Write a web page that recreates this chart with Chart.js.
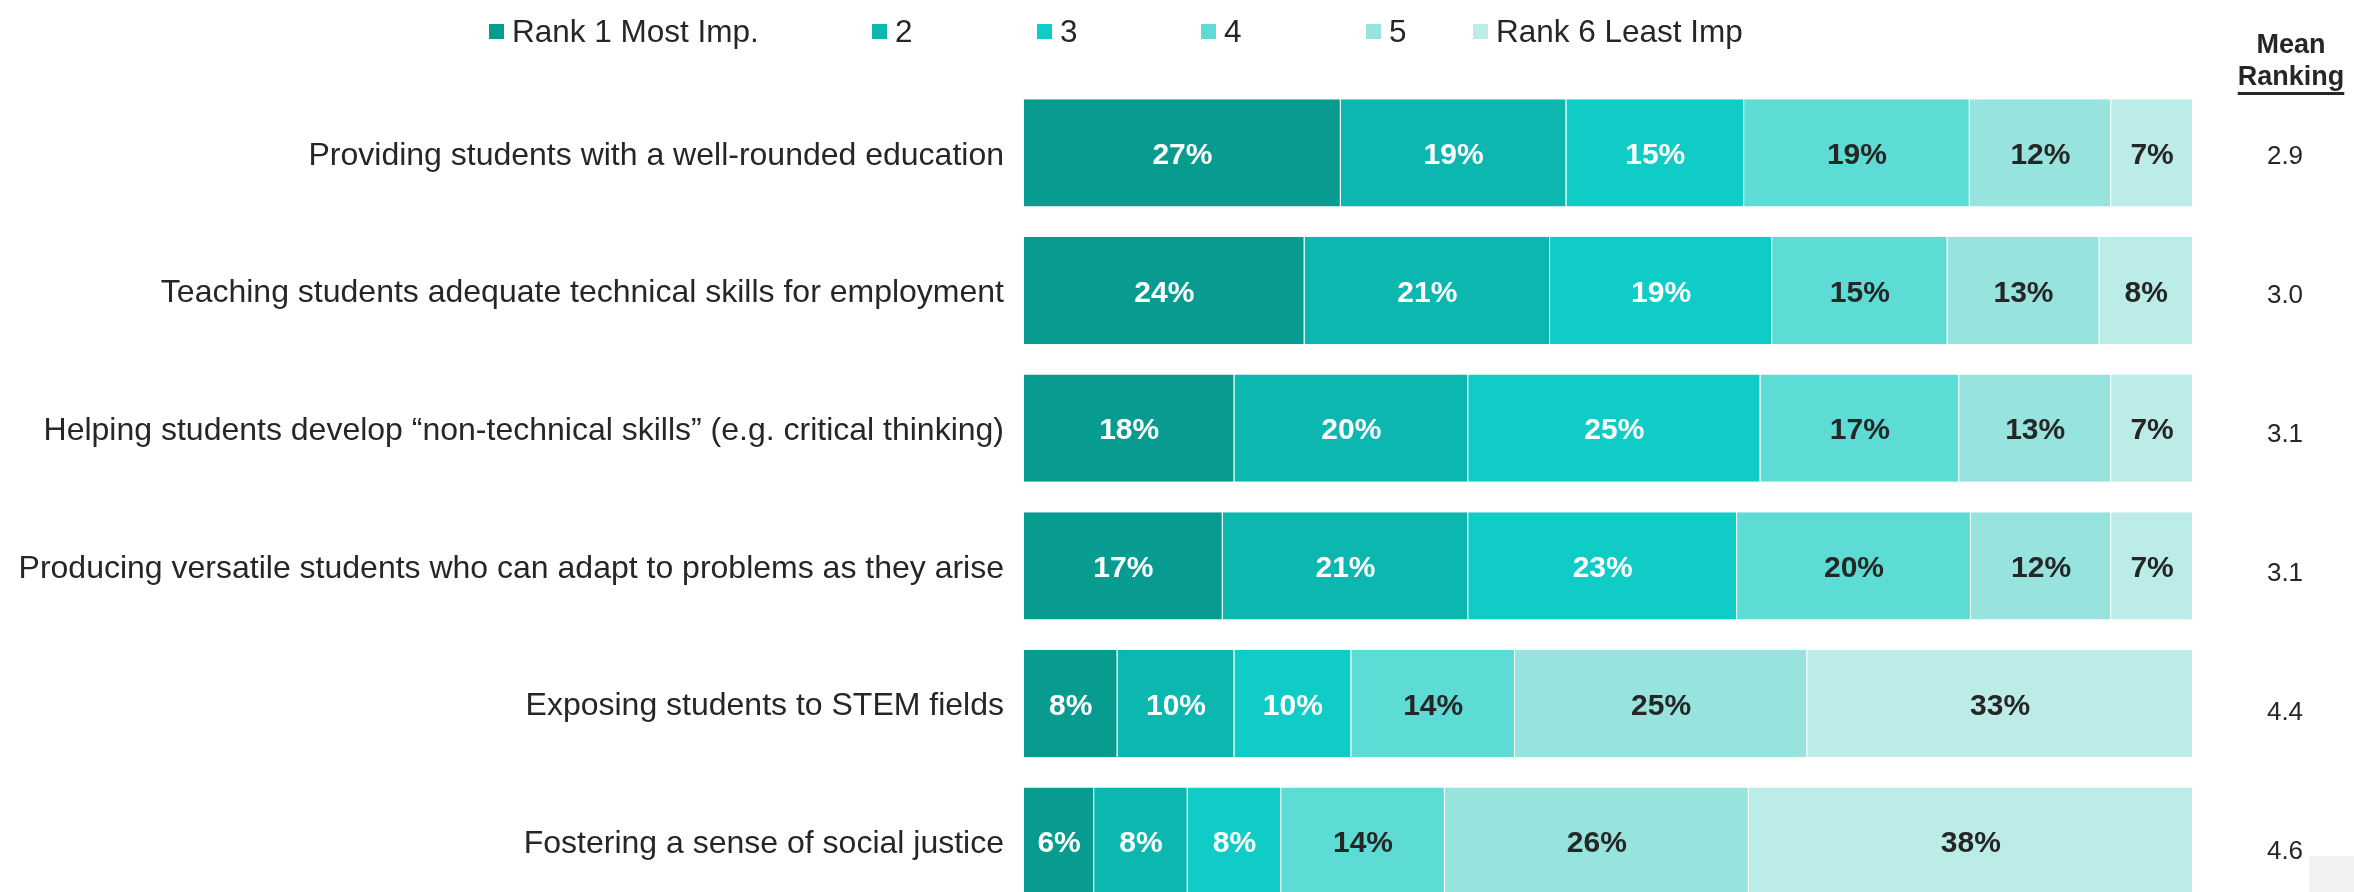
<!DOCTYPE html>
<html>
<head>
<meta charset="utf-8">
<script src="https://cdn.jsdelivr.net/npm/chart.js@4.4.0/dist/chart.umd.min.js"></script>
<style>
  html, body { margin: 0; padding: 0; background: #fff; overflow: hidden; }
  #wrap { position: relative; width: 2354px; height: 892px; overflow: hidden; }
  #chart { display: block; width: 2354px; height: 912px; }
  #corner { position: absolute; left: 2309px; top: 856px; width: 45px; height: 36px; background: #f2f2f2; }
</style>
</head>
<body>
<div id="wrap">
  <canvas id="chart" width="2354" height="912"></canvas>
  <div id="corner"></div>
</div>
<script>
const categories = [
  'Providing students with a well-rounded education',
  'Teaching students adequate technical skills for employment',
  'Helping students develop \u201cnon-technical skills\u201d (e.g. critical thinking)',
  'Producing versatile students who can adapt to problems as they arise',
  'Exposing students to STEM fields',
  'Fostering a sense of social justice'
];
const seriesNames = ['Rank 1 Most Imp.', '2', '3', '4', '5', 'Rank 6 Least Imp'];
const rank1 = [27.1, 24, 18, 17, 8, 6];
const rank2 = [19.3, 21, 20, 21, 10, 8];
const rank3 = [15.2, 19, 25, 23, 10, 8];
const rank4 = [19.3, 15, 17, 20, 14, 14];
const rank5 = [12.1, 13, 13, 12, 25, 26];
const rank6 = [7, 8, 7, 7, 33, 38];
const meanRanking = [2.9, 3.0, 3.1, 3.1, 4.4, 4.6];

const colors = ['#089c91', '#0cb7af', '#0fcdc6', '#5cdcd4', '#97e3dd', '#bcece8'];
const textDark = '#262626';
const font = '"Liberation Sans", Arial, sans-serif';

// percent labels in the middle of each segment
const barLabels = {
  id: 'barLabels',
  afterDatasetsDraw(chart) {
    const ctx = chart.ctx;
    ctx.save();
    ctx.font = 'bold 30px ' + font;
    ctx.textAlign = 'center';
    ctx.textBaseline = 'middle';
    chart.data.datasets.forEach((ds, i) => {
      const meta = chart.getDatasetMeta(i);
      meta.data.forEach((bar, j) => {
        ctx.fillStyle = i < 3 ? '#ffffff' : textDark;
        ctx.fillText(Math.round(ds.data[j]) + '%', (bar.x + bar.base) / 2, bar.y + 3);
      });
    });
    ctx.restore();
  }
};

// legend laid out like the original (uneven gaps)
const topLegend = {
  id: 'topLegend',
  afterDraw(chart) {
    const ctx = chart.ctx;
    const xs = [489, 872, 1037, 1201, 1366, 1473];
    ctx.save();
    ctx.font = '31.5px ' + font;
    ctx.textBaseline = 'middle';
    chart.data.datasets.forEach((ds, i) => {
      ctx.fillStyle = ds.backgroundColor;
      ctx.fillRect(xs[i], 24, 15, 15);
      ctx.fillStyle = textDark;
      ctx.fillText(ds.label, xs[i] + 23, 33);
    });
    ctx.restore();
  }
};

// "Mean Ranking" column on the right
const meanColumn = {
  id: 'meanColumn',
  afterDraw(chart) {
    const ctx = chart.ctx;
    const y = chart.scales.y;
    ctx.save();
    ctx.fillStyle = textDark;
    ctx.textAlign = 'center';
    ctx.textBaseline = 'middle';
    ctx.font = 'bold 27px ' + font;
    ctx.fillText('Mean', 2291, 46);
    ctx.fillText('Ranking', 2291, 78);
    const w = ctx.measureText('Ranking').width;
    ctx.fillRect(2291 - w / 2, 92, w, 3);
    ctx.font = '26px ' + font;
    meanRanking.forEach((m, j) => {
      // the text column is spaced a touch wider than the bars
      ctx.fillText(m.toFixed(1), 2285, y.getPixelForValue(j) + 4 + j * 1.3);
    });
    ctx.restore();
  }
};

const series = [rank1, rank2, rank3, rank4, rank5, rank6];

new Chart(document.getElementById('chart').getContext('2d'), {
  type: 'bar',
  data: {
    labels: categories,
    datasets: series.map((d, i) => ({
      label: seriesNames[i],
      data: d,
      backgroundColor: colors[i],
      borderColor: 'rgba(255,255,255,0.35)',
      borderWidth: { right: 1, top: 0, bottom: 0, left: 0 },
      borderSkipped: false,
      barPercentage: 0.78,
      categoryPercentage: 1
    }))
  },
  options: {
    indexAxis: 'y',
    responsive: false,
    animation: false,
    layout: { padding: { top: 84, bottom: 2, left: 0, right: 161 } },
    plugins: {
      legend: { display: false },
      tooltip: { enabled: false }
    },
    scales: {
      x: { stacked: true, display: false, min: 0, max: 100 },
      y: {
        stacked: true,
        grid: { display: false },
        border: { display: false },
        ticks: {
          color: textDark,
          padding: 12,
          labelOffset: 3,
          font: { family: font, size: 32 }
        },
        afterFit(scale) {
          scale.width = 1024;
          scale.paddingTop = 0;
          scale.paddingBottom = 0;
        }
      }
    }
  },
  plugins: [barLabels, topLegend, meanColumn]
});
</script>
</body>
</html>
